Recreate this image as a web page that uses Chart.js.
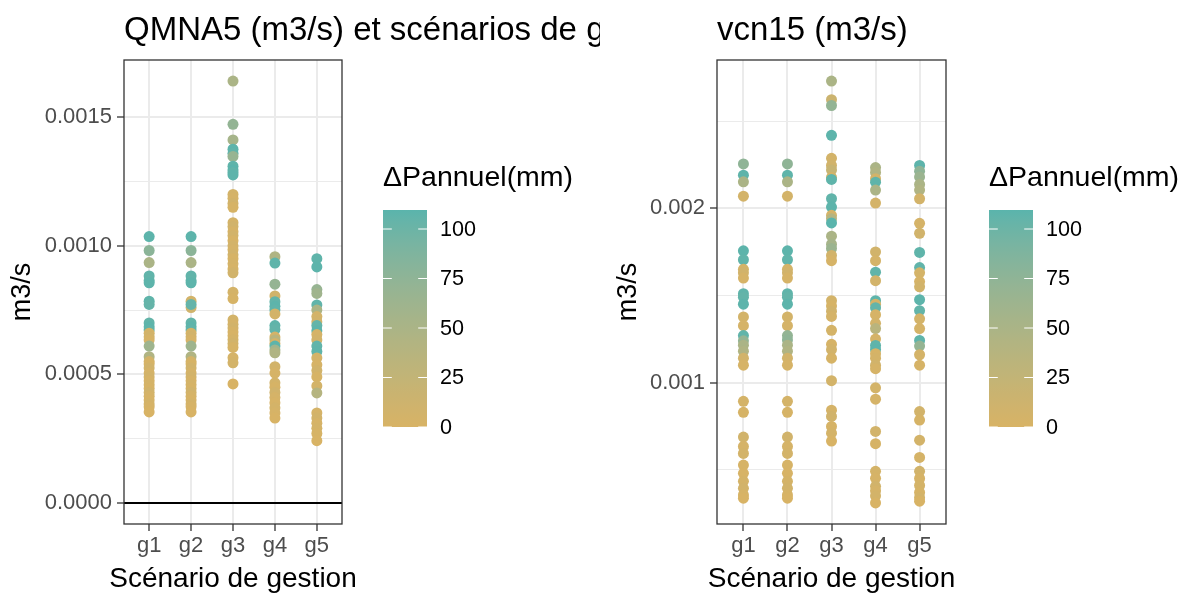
<!DOCTYPE html>
<html><head><meta charset="utf-8">
<script src="https://cdn.jsdelivr.net/npm/chart.js@4.4.0/dist/chart.umd.min.js"></script>
<style>
html,body{margin:0;padding:0;background:#fff;}
#wrap{position:relative;width:1182px;height:594px;overflow:hidden;background:#fff;}
canvas{position:absolute;top:0;}
</style></head><body>
<div id="wrap">
<canvas id="c1" width="600" height="594" style="left:0px"></canvas>
<canvas id="c2" width="582" height="594" style="left:600px"></canvas>
</div>
<script>
// ---------- categories / ticks ----------
const categories = ['g1','g2','g3','g4','g5'];
const legendTicks = [0, 25, 50, 75, 100];
const qmnaMajorTicks = [0, 0.0005, 0.001, 0.0015];
const qmnaTickLabels = ['0.0000','0.0005','0.0010','0.0015'];
const qmnaMinorTicks = [0.00025, 0.00075, 0.00125];
const vcnMajorTicks = [0.001, 0.002];
const vcnTickLabels = ['0.001','0.002'];
const vcnMinorTicks = [0.0005, 0.0015, 0.0025];

// ---------- QMNA5 values (m3/s) and ΔPannuel (mm) ----------
const qmnaG1 = [0.001036,0.000982,0.000935,0.000883,0.000865,0.000856,0.000785,0.000772,0.000700,0.000685,0.000673,0.000660,0.000646,0.000634,0.000610,0.000569,0.000550,0.000540,0.000525,0.000505,0.000490,0.000475,0.000460,0.000445,0.000430,0.000415,0.000400,0.000385,0.000374,0.000354];
const qmnaG1dP = [108,78,50,106,105,108,107,104,105,108,106,5,8,3,62,45,6,2,9,4,7,3,5,2,8,4,1,6,3,0];
const qmnaG2 = [0.001036,0.000982,0.000935,0.000883,0.000865,0.000856,0.000785,0.000760,0.000772,0.000700,0.000685,0.000673,0.000660,0.000646,0.000634,0.000610,0.000569,0.000550,0.000540,0.000525,0.000505,0.000490,0.000475,0.000460,0.000445,0.000430,0.000415,0.000400,0.000385,0.000374,0.000354];
const qmnaG2dP = [108,78,50,106,105,108,7,10,104,105,108,106,5,8,3,62,45,6,2,9,4,7,3,5,2,8,4,1,6,3,0];
const qmnaG3 = [0.001641,0.001473,0.001412,0.001376,0.001360,0.001348,0.001310,0.001295,0.001285,0.001276,0.001200,0.001185,0.001165,0.001150,0.001090,0.001075,0.001055,0.001040,0.001020,0.001000,0.000985,0.000965,0.000950,0.000930,0.000910,0.000895,0.000820,0.000795,0.000712,0.000695,0.000680,0.000665,0.000650,0.000635,0.000620,0.000605,0.000565,0.000545,0.000463];
const qmnaG3dP = [50,72,55,108,106,68,107,109.6,105,108,6,4,9,2,5,8,3,7,1,6,4,9,2,5,3,8,5,2,6,4,7,3,1,5,8,2,4,6,0];
const qmnaG4 = [0.000958,0.000933,0.000851,0.000805,0.000783,0.000765,0.000751,0.000735,0.000690,0.000675,0.000645,0.000634,0.000620,0.000610,0.000595,0.000584,0.000530,0.000505,0.000467,0.000450,0.000430,0.000410,0.000390,0.000370,0.000350,0.000330];
const qmnaG4dP = [45,107,70,8,105,108,106,6,107,105,5,35,4,108,60,45,7,3,6,2,8,4,1,5,3,0];
const qmnaG5 = [0.000950,0.000918,0.000830,0.000815,0.000770,0.000750,0.000725,0.000705,0.000690,0.000670,0.000655,0.000634,0.000610,0.000589,0.000564,0.000537,0.000515,0.000490,0.000455,0.000428,0.000350,0.000330,0.000310,0.000290,0.000270,0.000242];
const qmnaG5dP = [107,108,68,60,106,50,6,8,105,108,4,7,106,107,5,3,8,2,6,40,4,7,3,5,2,0];

// ---------- VCN15 values (m3/s) and ΔPannuel (mm) ----------
const vcnG1 = [0.002255,0.002190,0.002152,0.002070,0.001756,0.001705,0.001650,0.001630,0.001600,0.001510,0.001490,0.001450,0.001377,0.001327,0.001270,0.001240,0.001215,0.001180,0.001140,0.001100,0.000893,0.000830,0.000688,0.000634,0.000594,0.000527,0.000480,0.000434,0.000394,0.000356,0.000337];
const vcnG1dP = [75,107,50,6,108,106,5,8,3,107,105,108,6,4,106,70,50,45,7,3,5,2,8,4,6,3,1,5,7,2,0];
const vcnG2 = [0.002255,0.002190,0.002152,0.002070,0.001756,0.001705,0.001650,0.001630,0.001600,0.001510,0.001490,0.001450,0.001377,0.001327,0.001270,0.001245,0.001215,0.001180,0.001140,0.001100,0.000893,0.000830,0.000688,0.000634,0.000594,0.000527,0.000480,0.000434,0.000394,0.000356,0.000337];
const vcnG2dP = [75,107,50,6,108,106,5,8,3,107,105,108,6,4,72,75,50,45,7,3,5,2,8,4,6,3,1,5,7,2,0];
const vcnG3 = [0.002730,0.002623,0.002590,0.002419,0.002287,0.002246,0.002220,0.002177,0.002166,0.002055,0.002007,0.001960,0.001940,0.001916,0.001840,0.001794,0.001770,0.001730,0.001700,0.001470,0.001440,0.001410,0.001380,0.001300,0.001220,0.001190,0.001140,0.001011,0.000842,0.000806,0.000749,0.000710,0.000665];
const vcnG3dP = [50,15,72,108,6,8,20,4,107,106,108,5,40,109.6,50,55,65,7,3,6,2,8,4,5,3,7,2,6,4,8,3,5,0];
const vcnG4 = [0.002234,0.002206,0.002170,0.002150,0.002105,0.002030,0.001750,0.001700,0.001634,0.001585,0.001470,0.001450,0.001430,0.001390,0.001340,0.001310,0.001250,0.001213,0.001190,0.001166,0.001140,0.001100,0.001080,0.000970,0.000905,0.000720,0.000650,0.000491,0.000451,0.000405,0.000380,0.000350,0.000310];
const vcnG4dP = [50,45,6,107,50,5,8,4,106,7,108,5,105,3,6,35,4,107,108,2,5,8,3,6,4,7,2,5,3,8,4,6,0];
const vcnG5 = [0.002246,0.002213,0.002180,0.002137,0.002105,0.002055,0.001914,0.001857,0.001747,0.001660,0.001630,0.001580,0.001550,0.001476,0.001413,0.001366,0.001310,0.001242,0.001210,0.001160,0.001100,0.000834,0.000785,0.000670,0.000571,0.000491,0.000450,0.000410,0.000370,0.000340,0.000320];
const vcnG5dP = [108,75,65,50,45,6,4,8,107,106,5,3,7,108,105,6,4,107,70,5,3,7,2,6,4,8,3,5,2,6,0];

const colourLow = '#d8b365';
const colourHigh = '#5ab4ac';

// ---------- colour helpers (CIELAB interpolation, like ggplot) ----------
function hexToRgb(h){h=h.replace('#','');return [0,2,4].map(i=>parseInt(h.substr(i,2),16));}
function toLin(c){c/=255;return c<=0.04045?c/12.92:Math.pow((c+0.055)/1.055,2.4);}
function toSrgb(c){const v=c<=0.0031308?12.92*c:1.055*Math.pow(c,1/2.4)-0.055;return Math.round(Math.max(0,Math.min(1,v))*255);}
const Xn=0.95047,Yn=1,Zn=1.08883;
function fLab(t){return t>0.008856?Math.cbrt(t):7.787*t+16/116;}
function fInv(t){return t*t*t>0.008856?t*t*t:(t-16/116)/7.787;}
function rgbToLab(rgb){const [R,G,B]=rgb.map(toLin);
  const X=(0.4124*R+0.3576*G+0.1805*B)/Xn,Y=(0.2126*R+0.7152*G+0.0722*B)/Yn,Z=(0.0193*R+0.1192*G+0.9505*B)/Zn;
  const fx=fLab(X),fy=fLab(Y),fz=fLab(Z);return [116*fy-16,500*(fx-fy),200*(fy-fz)];}
function labToRgb([L,a,b]){const fy=(L+16)/116,fx=fy+a/500,fz=fy-b/200;
  const X=fInv(fx)*Xn,Y=fInv(fy)*Yn,Z=fInv(fz)*Zn;
  const R=3.2406*X-1.5372*Y-0.4986*Z,G=-0.9689*X+1.8758*Y+0.0415*Z,B=0.0557*X-0.2040*Y+1.0570*Z;
  return [toSrgb(R),toSrgb(G),toSrgb(B)];}
const labLow=rgbToLab(hexToRgb(colourLow)), labHigh=rgbToLab(hexToRgb(colourHigh));
function colourAt(t){t=Math.max(0,Math.min(1,t));const l=labLow.map((v,i)=>v+(labHigh[i]-v)*t);const c=labToRgb(l);return `rgb(${c[0]},${c[1]},${c[2]})`;}

const FONT = '"Liberation Sans", Arial, sans-serif';

function near(a,b){return Math.abs(a-b)<1e-9;}

function buildPanel(canvasId, cfg){
  const allVals = cfg.groups.flat();
  const allDP = cfg.dps.flat();
  const dMin = Math.min(...allDP), dMax = Math.max(...allDP);
  let lo = Math.min(...allVals), hi = Math.max(...allVals);
  if (cfg.includeZero) lo = Math.min(0, lo);
  const pad = 0.05*(hi-lo);
  const points = [], colours = [];
  cfg.groups.forEach((vals, gi) => {
    vals.forEach((v, k) => {
      points.push({x: gi+1, y: v});
      colours.push(colourAt((cfg.dps[gi][k]-dMin)/(dMax-dMin)));
    });
  });
  const datasets = [{
    type:'scatter', data: points, backgroundColor: colours, borderWidth:0,
    pointRadius:5.5, pointHoverRadius:5.5, pointBorderWidth:0
  }];
  if (cfg.includeZero) {
    datasets.push({type:'line', data:[{x:0.4,y:0},{x:5.6,y:0}], borderColor:'#000000', borderWidth:2, pointRadius:0, fill:false});
  }
  const isMajor = v => cfg.major.some(m=>near(m,v));
  const panelPlugin = {
    id:'panelDeco',
    afterDatasetsDraw(chart){
      const {ctx, chartArea:a} = chart;
      ctx.save();
      ctx.strokeStyle='#333333'; ctx.lineWidth=1.3;
      ctx.strokeRect(a.left, a.top, a.right-a.left, a.bottom-a.top);
      ctx.restore();
    },
    afterDraw(chart){
      const {ctx, chartArea:a} = chart;
      ctx.save();
      // title
      ctx.fillStyle='#000'; ctx.font=`33px ${FONT}`; ctx.textBaseline='alphabetic'; ctx.textAlign='left';
      ctx.fillText(cfg.title, a.left, 39.5);
      // x axis title
      ctx.font=`28px ${FONT}`; ctx.textAlign='center';
      ctx.fillText('Scénario de gestion', (a.left+a.right)/2, 587);
      // colour bar legend
      const L = cfg.legend;
      ctx.textAlign='left';
      ctx.font=`28.5px ${FONT}`;
      ctx.fillText('ΔPannuel(mm)', L.x, 186);
      const grad = ctx.createLinearGradient(0, L.top+L.h, 0, L.top);
      for (let i=0;i<=20;i++){ grad.addColorStop(i/20, colourAt(i/20)); }
      ctx.fillStyle=grad; ctx.fillRect(L.x, L.top, L.w, L.h);
      ctx.strokeStyle='#ffffff'; ctx.lineWidth=1;
      ctx.font=`21.6px ${FONT}`; ctx.fillStyle='#000'; ctx.textBaseline='middle';
      legendTicks.forEach(t=>{
        const y = L.top + L.h - (t-dMin)/(dMax-dMin)*L.h;
        ctx.beginPath();
        ctx.moveTo(L.x, y); ctx.lineTo(L.x+8.8, y);
        ctx.moveTo(L.x+L.w-8.8, y); ctx.lineTo(L.x+L.w, y);
        ctx.stroke();
        ctx.fillText(String(t), L.x+L.w+13, y+1);
      });
      ctx.restore();
    }
  };
  return new Chart(document.getElementById(canvasId), {
    data:{datasets},
    options:{
      responsive:false, animation:false, devicePixelRatio:1,
      layout:{padding:{left:0, top:60, right:cfg.padRight, bottom:0}},
      plugins:{legend:{display:false}, tooltip:{enabled:false}},
      scales:{
        x:{type:'linear', min:0.4, max:5.6,
          afterBuildTicks: s => { s.ticks = categories.map((c,i)=>({value:i+1})); },
          afterFit: s => { s.height = 70; },
          ticks:{autoSkip:false, maxRotation:0, color:'#4D4D4D', font:{family:FONT, size:22}, padding:2,
            callback: v => categories[Math.round(v)-1] ?? ''},
          grid:{color:'#EBEBEB', lineWidth:2, tickColor:'#333333', tickLength:7, tickWidth:1.3},
          border:{display:false},
          title:{display:false}
        },
        y:{type:'linear', min: lo-pad, max: hi+pad,
          afterBuildTicks: s => { s.ticks = [...cfg.major, ...cfg.minor].sort((p,q)=>p-q).map(v=>({value:v})); },
          afterFit: s => { s.width = cfg.yWidth; },
          ticks:{autoSkip:false, color:'#4D4D4D', font:{family:FONT, size:22}, padding:5,
            callback: v => { const i = cfg.major.findIndex(m=>near(m,v)); return i>=0 ? cfg.labels[i] : ''; }},
          grid:{color:'#EBEBEB', lineWidth: c => (c.tick && isMajor(c.tick.value)) ? 2 : 1,
            tickColor: c => (c.tick && isMajor(c.tick.value)) ? '#333333' : 'rgba(0,0,0,0)', tickLength:7, tickWidth:1.3},
          border:{display:false},
          title:{display:true, text:'m3/s', color:'#000', font:{family:FONT, size:27}, padding:{top:cfg.yTitlePad, bottom:0}}
        }
      }
    },
    plugins:[panelPlugin]
  });
}

buildPanel('c1', {
  title:'QMNA5 (m3/s) et scénarios de gestion',
  groups:[qmnaG1,qmnaG2,qmnaG3,qmnaG4,qmnaG5],
  dps:[qmnaG1dP,qmnaG2dP,qmnaG3dP,qmnaG4dP,qmnaG5dP],
  includeZero:true, major:qmnaMajorTicks, minor:qmnaMinorTicks, labels:qmnaTickLabels,
  padRight:258, yWidth:124, yTitlePad:6,
  legend:{x:383, top:210, w:44, h:217}
});
buildPanel('c2', {
  title:'vcn15 (m3/s)',
  groups:[vcnG1,vcnG2,vcnG3,vcnG4,vcnG5],
  dps:[vcnG1dP,vcnG2dP,vcnG3dP,vcnG4dP,vcnG5dP],
  includeZero:false, major:vcnMajorTicks, minor:vcnMinorTicks, labels:vcnTickLabels,
  padRight:236, yWidth:117, yTitlePad:12,
  legend:{x:389, top:210, w:44, h:217}
});
</script>
</body></html>
